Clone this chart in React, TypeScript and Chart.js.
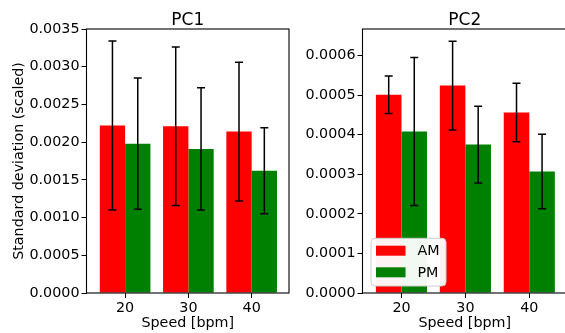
import React, { useEffect, useRef } from "react";
import { Chart, registerables } from "chart.js";

Chart.register(...registerables);

const speeds = [20, 30, 40];
const seriesLabels = ["AM", "PM"];
const seriesColors = ["#ff0000", "#008000"];

const pc1AM = [0.00222, 0.00221, 0.00214];
const pc1PM = [0.00198, 0.00191, 0.00162];
const pc1AMErr = [0.00112, 0.00105, 0.00092];
const pc1PMErr = [0.00087, 0.00081, 0.00057];

const pc2AM = [0.000501, 0.000524, 0.000456];
const pc2PM = [0.000408, 0.000375, 0.000307];
const pc2AMErr = [0.0000475, 0.000112, 0.000074];
const pc2PMErr = [0.000187, 0.000097, 0.000094];

const pc1Ticks = [0, 0.0005, 0.001, 0.0015, 0.002, 0.0025, 0.003, 0.0035];
const pc2Ticks = [0, 0.0001, 0.0002, 0.0003, 0.0004, 0.0005, 0.0006];

const FONT = "'DejaVu Sans', sans-serif";

const errorBarPlugin = {
  id: "errorBars",
  afterDatasetsDraw(chart: any) {
    const ctx = chart.ctx;
    const yScale = chart.scales.y;
    ctx.save();
    ctx.strokeStyle = "#000";
    ctx.lineWidth = 1.5;
    chart.data.datasets.forEach((ds: any, di: number) => {
      const meta = chart.getDatasetMeta(di);
      meta.data.forEach((bar: any, i: number) => {
        const v = ds.data[i].y;
        const e = ds.errors[i];
        const x = bar.x;
        const yHi = yScale.getPixelForValue(v + e);
        const yLo = yScale.getPixelForValue(v - e);
        const cap = 4;
        ctx.beginPath();
        ctx.moveTo(x, yHi);
        ctx.lineTo(x, yLo);
        ctx.moveTo(x - cap, yHi);
        ctx.lineTo(x + cap, yHi);
        ctx.moveTo(x - cap, yLo);
        ctx.lineTo(x + cap, yLo);
        ctx.stroke();
      });
    });
    ctx.restore();
  },
};

const framePlugin = {
  id: "frame",
  afterDraw(chart: any) {
    const { ctx, chartArea } = chart;
    const o = chart.options.plugins.frame || {};
    ctx.save();
    ctx.strokeStyle = "#000";
    ctx.lineWidth = 1.1;
    ctx.strokeRect(
      chartArea.left,
      chartArea.top,
      chartArea.right - chartArea.left,
      chartArea.bottom - chartArea.top
    );
    // title
    ctx.fillStyle = "#000";
    ctx.font = `17px ${FONT}`;
    ctx.textAlign = "center";
    ctx.textBaseline = "alphabetic";
    ctx.fillText(o.title, (chartArea.left + chartArea.right) / 2, 25);
    // legend
    if (o.legend) {
      const bx = chartArea.left + 8.5;
      const by = chartArea.bottom - 54.7;
      const bw = 75;
      const bh = 47.7;
      const r = 4;
      ctx.beginPath();
      ctx.moveTo(bx + r, by);
      ctx.lineTo(bx + bw - r, by);
      ctx.quadraticCurveTo(bx + bw, by, bx + bw, by + r);
      ctx.lineTo(bx + bw, by + bh - r);
      ctx.quadraticCurveTo(bx + bw, by + bh, bx + bw - r, by + bh);
      ctx.lineTo(bx + r, by + bh);
      ctx.quadraticCurveTo(bx, by + bh, bx, by + bh - r);
      ctx.lineTo(bx, by + r);
      ctx.quadraticCurveTo(bx, by, bx + r, by);
      ctx.closePath();
      ctx.fillStyle = "rgba(255,255,255,0.95)";
      ctx.fill();
      ctx.strokeStyle = "#cccccc";
      ctx.lineWidth = 1;
      ctx.stroke();
      ctx.font = `14.3px ${FONT}`;
      ctx.textAlign = "left";
      ctx.textBaseline = "middle";
      chart.data.datasets.forEach((ds: any, i: number) => {
        const hy = by + 7.4 + i * 21.6;
        ctx.fillStyle = ds.backgroundColor;
        ctx.fillRect(bx + 5, hy, 29.5, 10);
        ctx.fillStyle = "#000";
        ctx.fillText(ds.label, bx + 46.5, hy + 5.5);
      });
    }
    ctx.restore();
  },
};

type SubProps = {
  title: string;
  am: number[];
  pm: number[];
  amErr: number[];
  pmErr: number[];
  ticks: number[];
  yMax: number;
  yTitle: string;
  legend: boolean;
  left: number;
  width: number;
  yWidth: number;
  padRight: number;
};

function SubChart(p: SubProps) {
  const ref = useRef<HTMLCanvasElement | null>(null);
  useEffect(() => {
    if (!ref.current) return;
    const mk = (vals: number[], errs: number[], idx: number) => ({
      label: seriesLabels[idx],
      data: speeds.map((s, i) => ({ x: s, y: vals[i] })),
      errors: errs,
      backgroundColor: seriesColors[idx],
      borderWidth: 0,
      categoryPercentage: 0.8,
      barPercentage: 1.0,
    });
    const chart = new Chart(ref.current, {
      type: "bar",
      data: {
        datasets: [mk(p.am, p.amErr, 0), mk(p.pm, p.pmErr, 1)] as any,
      },
      plugins: [errorBarPlugin, framePlugin],
      options: {
        animation: false,
        responsive: false,
        devicePixelRatio: 1,
        layout: { padding: { top: 29, right: p.padRight, left: 0, bottom: 0 } },
        font: { family: FONT },
        plugins: {
          legend: { display: false },
          tooltip: { enabled: false },
          frame: { title: p.title, legend: p.legend },
        } as any,
        scales: {
          x: {
            type: "linear",
            min: 13.9,
            max: 45.9,
            offset: false,
            afterBuildTicks: (axis: any) => {
              axis.ticks = speeds.map((v) => ({ value: v }));
            },
            afterFit: (scale: any) => {
              scale.height = 40;
            },
            grid: {
              display: true,
              offset: false,
              drawOnChartArea: false,
              drawTicks: true,
              tickLength: 5,
              tickColor: "#000",
              tickWidth: 1,
              color: "#000",
            },
            border: { display: false },
            ticks: {
              color: "#000",
              font: { family: FONT, size: 14.3 },
              padding: 2,
              maxRotation: 0,
              autoSkip: false,
              callback: (v: any) => String(v),
            },
            title: {
              display: true,
              text: "Speed [bpm]",
              color: "#000",
              font: { family: FONT, size: 14.3 },
              padding: { top: 0, bottom: 1.5 },
            },
          },
          y: {
            type: "linear",
            min: 0,
            max: p.yMax,
            afterBuildTicks: (axis: any) => {
              axis.ticks = p.ticks.map((v) => ({ value: v }));
            },
            afterFit: (scale: any) => {
              scale.width = p.yWidth;
            },
            grid: {
              display: true,
              drawOnChartArea: false,
              drawTicks: true,
              tickLength: 5,
              tickColor: "#000",
              tickWidth: 1,
              color: "#000",
            },
            border: { display: false },
            ticks: {
              color: "#000",
              font: { family: FONT, size: 14.3 },
              padding: 2,
              callback: (v: any) => Number(v).toFixed(4),
            },
            title: {
              display: p.yTitle !== "",
              text: p.yTitle,
              color: "#000",
              font: { family: FONT, size: 14.3 },
              padding: { top: 10.4, bottom: 0 },
            },
          },
        },
      } as any,
    });
    return () => chart.destroy();
  }, []);
  return (
    <div style={{ position: "absolute", left: p.left, top: 0, width: p.width, height: 333 }}>
      <canvas ref={ref} width={p.width} height={333} style={{ width: p.width, height: 333, display: "block" }} />
    </div>
  );
}

export default function App() {
  return (
    <div
      style={{
        position: "fixed",
        left: 0,
        top: 0,
        width: 565,
        height: 333,
        overflow: "hidden",
        background: "#fff",
      }}
    >
      <SubChart
        title="PC1"
        am={pc1AM}
        pm={pc1PM}
        amErr={pc1AMErr}
        pmErr={pc1PMErr}
        ticks={pc1Ticks}
        yMax={0.0035}
        yTitle="Standard deviation (scaled)"
        legend={false}
        left={0}
        width={300}
        yWidth={86.5}
        padRight={11}
      />
      <SubChart
        title="PC2"
        am={pc2AM}
        pm={pc2PM}
        amErr={pc2AMErr}
        pmErr={pc2PMErr}
        ticks={pc2Ticks}
        yMax={0.000667}
        yTitle=""
        legend={true}
        left={290}
        width={290}
        yWidth={72.5}
        padRight={13}
      />
    </div>
  );
}
